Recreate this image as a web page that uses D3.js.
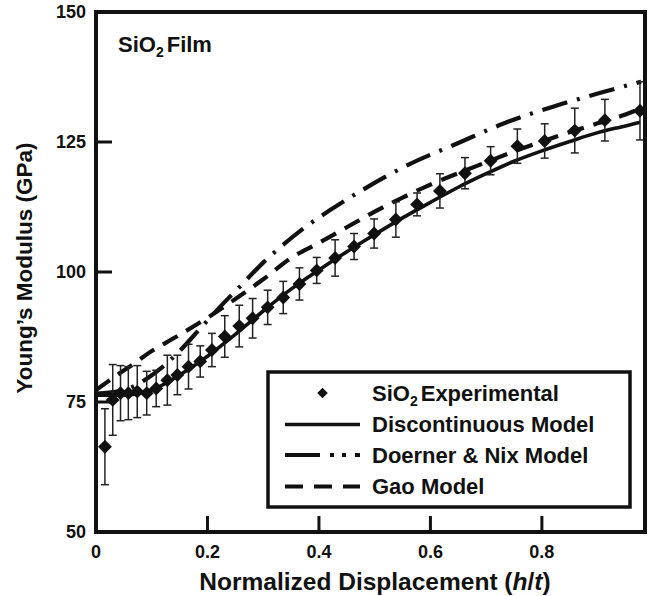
<!DOCTYPE html>
<html>
<head>
<meta charset="utf-8">
<script src="https://cdn.jsdelivr.net/npm/d3@7/dist/d3.min.js"></script>
<style>
  html, body { margin: 0; padding: 0; background: #fff; }
  svg { display: block; }
  text { font-family: "Liberation Sans", Arial, Helvetica, sans-serif; font-weight: bold; fill: #111; }
</style>
</head>
<body>
<svg id="chart" width="650" height="596"></svg>
<script>
// Experimental Young's modulus of the SiO2 film vs normalized displacement
const expX   = [0.016, 0.030, 0.044, 0.058, 0.074, 0.091, 0.108, 0.128, 0.146, 0.166,
                0.187, 0.208, 0.231, 0.257, 0.281, 0.308, 0.336, 0.365, 0.396, 0.429,
                0.463, 0.499, 0.538, 0.576, 0.617, 0.662, 0.708, 0.756, 0.805, 0.859,
                0.913, 0.976];
const expY   = [66.4, 75.4, 76.7, 76.7, 77.0, 76.7, 77.6, 79.2, 80.2, 81.8,
                82.8, 85.0, 87.6, 89.6, 91.1, 93.2, 95.1, 97.7, 100.3, 102.7,
                104.9, 107.4, 110.1, 113.0, 115.6, 119.0, 121.4, 124.2, 125.2, 127.2,
                129.2, 131.0];
const expErr = [7.3, 6.8, 5.3, 5.1, 5.0, 4.2, 3.5, 4.8, 3.8, 4.3,
                3.0, 3.2, 4.0, 4.0, 3.8, 3.3, 3.1, 3.1, 2.5, 3.5,
                2.5, 2.8, 3.4, 2.2, 3.3, 3.0, 2.7, 3.3, 3.3, 4.3,
                4.0, 5.6];

// Discontinuous model
const discX = [0, 0.04, 0.07, 0.10, 0.15, 0.20, 0.25, 0.30, 0.35, 0.40, 0.45, 0.50,
               0.55, 0.60, 0.65, 0.70, 0.75, 0.80, 0.85, 0.90, 0.95, 0.976];
const discY = [76.3, 76.3, 76.5, 77.3, 80.2, 83.8, 88.0, 92.5, 96.7, 100.4, 103.9, 107.2,
               110.4, 113.4, 116.3, 118.9, 121.3, 123.3, 125.1, 126.8, 128.1, 128.8];

// Doerner & Nix model
const dnX = [0, 0.05, 0.09, 0.12, 0.15, 0.19, 0.22, 0.26, 0.30, 0.33, 0.37, 0.42, 0.48,
             0.56, 0.65, 0.73, 0.82, 0.91, 0.978];
const dnY = [76.6, 77.3, 79.4, 81.8, 84.8, 89.5, 93.0, 97.4, 101.8, 104.7, 108.2, 111.9, 115.9,
             120.6, 124.8, 128.5, 131.8, 134.6, 136.6];

// Gao model
const gaoX = [0, 0.034, 0.067, 0.10, 0.14, 0.20, 0.25, 0.30, 0.35, 0.40, 0.45, 0.50,
              0.55, 0.60, 0.65, 0.70, 0.75, 0.80, 0.85, 0.90, 0.95, 0.978];
const gaoY = [77.3, 79.9, 82.3, 84.8, 87.3, 91.2, 94.8, 98.6, 102.7, 105.6, 108.6, 111.6,
              114.3, 116.8, 119.0, 121.1, 123.2, 125.1, 126.9, 128.6, 130.3, 131.5];

const xTicks = [0, 0.2, 0.4, 0.6, 0.8];
const yTicks = [50, 75, 100, 125, 150];

const legendLabels = ["Experimental", "Discontinuous Model", "Doerner & Nix Model", "Gao Model"];

const svg = d3.select("#chart");
const mLeft = 96, mRight = 645, mTop = 12, mBottom = 532;

const x = d3.scaleLinear().domain([0, 0.985]).range([mLeft, mRight]);
const y = d3.scaleLinear().domain([50, 150]).range([mBottom, mTop]);

const line = d3.line().x(d => x(d[0])).y(d => y(d[1])).curve(d3.curveMonotoneX);

const plot = svg.append("g");

// model curves
plot.append("path")
  .datum(d3.zip(dnX, dnY))
  .attr("d", line)
  .attr("fill", "none").attr("stroke", "#111").attr("stroke-width", 4.2)
  .attr("stroke-dasharray", "26,10,3,10");

plot.append("path")
  .datum(d3.zip(gaoX, gaoY))
  .attr("d", line)
  .attr("fill", "none").attr("stroke", "#111").attr("stroke-width", 4.2)
  .attr("stroke-dasharray", "17,10");

plot.append("path")
  .datum(d3.zip(discX, discY))
  .attr("d", line)
  .attr("fill", "none").attr("stroke", "#111").attr("stroke-width", 3.6);

// error bars
const pts = expX.map((v, i) => ({ x: v, y: expY[i], e: expErr[i] }));
const eb = plot.append("g").attr("stroke", "#222").attr("stroke-width", 1.5);
pts.forEach(p => {
  const cx = x(p.x), y1 = y(p.y + p.e), y2 = y(p.y - p.e);
  eb.append("line").attr("x1", cx).attr("x2", cx).attr("y1", y1).attr("y2", y2);
  eb.append("line").attr("x1", cx - 4).attr("x2", cx + 4).attr("y1", y1).attr("y2", y1);
  eb.append("line").attr("x1", cx - 4).attr("x2", cx + 4).attr("y1", y2).attr("y2", y2);
});

// diamonds
const diamond = d3.symbol().type(d3.symbolSquare).size(96);
plot.append("g").selectAll("path")
  .data(pts).join("path")
  .attr("d", diamond)
  .attr("transform", p => `translate(${x(p.x)},${y(p.y)}) rotate(45)`)
  .attr("fill", "#111");

// frame
svg.append("rect")
  .attr("x", mLeft).attr("y", mTop)
  .attr("width", mRight - mLeft).attr("height", mBottom - mTop)
  .attr("fill", "none").attr("stroke", "#111").attr("stroke-width", 4);

// ticks (inward)
svg.append("g").selectAll("line")
  .data(xTicks.filter(t => t > 0)).join("line")
  .attr("x1", d => x(d)).attr("x2", d => x(d))
  .attr("y1", mBottom).attr("y2", mBottom - 16)
  .attr("stroke", "#111").attr("stroke-width", 3);

svg.append("g").selectAll("line")
  .data(yTicks.filter(t => t > 50 && t < 150)).join("line")
  .attr("x1", mLeft).attr("x2", mLeft + 16)
  .attr("y1", d => y(d)).attr("y2", d => y(d))
  .attr("stroke", "#111").attr("stroke-width", 3);

// tick labels
svg.append("g").selectAll("text")
  .data(xTicks).join("text")
  .attr("x", d => x(d)).attr("y", 558)
  .attr("text-anchor", "middle")
  .attr("font-size", 18)
  .text(d => d === 0 ? "0" : d3.format(".1f")(d));

svg.append("g").selectAll("text")
  .data(yTicks).join("text")
  .attr("x", 86).attr("y", d => y(d))
  .attr("dy", "0.36em")
  .attr("text-anchor", "end")
  .attr("font-size", 18)
  .text(d => d);

// axis titles
const xt = svg.append("text")
  .attr("x", 375).attr("y", 590)
  .attr("text-anchor", "middle")
  .attr("font-size", 24.5);
xt.append("tspan").text("Normalized Displacement (");
xt.append("tspan").attr("font-style", "italic").text("h");
xt.append("tspan").text("/");
xt.append("tspan").attr("font-style", "italic").text("t");
xt.append("tspan").text(")");

svg.append("text")
  .attr("transform", "translate(32,268) rotate(-90)")
  .attr("text-anchor", "middle")
  .attr("font-size", 22.5)
  .text("Young’s Modulus (GPa)");

// panel label
const pl = svg.append("text").attr("x", 118).attr("y", 52).attr("font-size", 22);
pl.append("tspan").text("SiO");
pl.append("tspan").attr("font-size", 14).attr("dy", 5).text("2");
pl.append("tspan").attr("dy", -5).attr("dx", 3).text("Film");

// legend
const lg = svg.append("g");
lg.append("rect")
  .attr("x", 268).attr("y", 372).attr("width", 362).attr("height", 135)
  .attr("fill", "#fff").attr("stroke", "#111").attr("stroke-width", 3.5);

const rowY = [393, 424.5, 455, 486.5];
const lx1 = 285, lx2 = 360, tx = 372;

lg.append("path")
  .attr("d", d3.symbol().type(d3.symbolSquare).size(55)())
  .attr("transform", `translate(${(lx1 + lx2) / 2},${rowY[0]}) rotate(45)`)
  .attr("fill", "#111");

lg.append("line").attr("x1", lx1).attr("x2", lx2).attr("y1", rowY[1]).attr("y2", rowY[1])
  .attr("stroke", "#111").attr("stroke-width", 3.6);
lg.append("line").attr("x1", lx1).attr("x2", lx2).attr("y1", rowY[2]).attr("y2", rowY[2])
  .attr("stroke", "#111").attr("stroke-width", 4)
  .attr("stroke-dasharray", "35,10,4,8,4,9,6,100");
lg.append("line").attr("x1", lx1).attr("x2", lx2).attr("y1", rowY[3]).attr("y2", rowY[3])
  .attr("stroke", "#111").attr("stroke-width", 4)
  .attr("stroke-dasharray", "18,11");

const t0 = lg.append("text").attr("x", tx).attr("y", rowY[0]).attr("dy", "0.36em").attr("font-size", 22);
t0.append("tspan").text("SiO");
t0.append("tspan").attr("font-size", 14).attr("dy", 5).text("2");
t0.append("tspan").attr("dy", -5).attr("dx", 3).text(legendLabels[0]);

legendLabels.slice(1).forEach((lab, i) => {
  lg.append("text").attr("x", tx).attr("y", rowY[i + 1]).attr("dy", "0.36em")
    .attr("font-size", 22).text(lab);
});
</script>
</body>
</html>
